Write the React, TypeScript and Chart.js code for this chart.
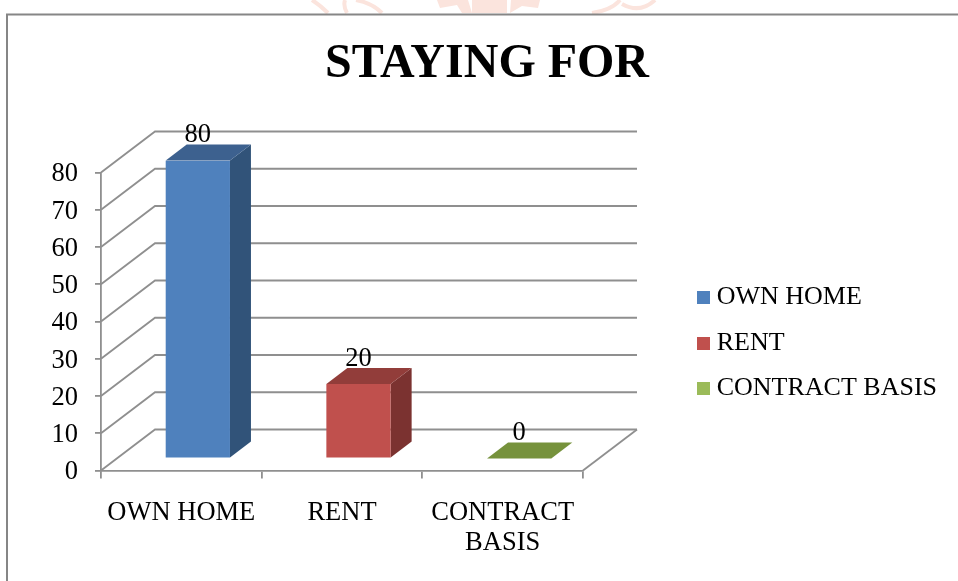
import React, { useEffect, useRef } from "react";
import { Chart, registerables } from "chart.js";

Chart.register(...registerables);

const categories = ["OWN HOME", "RENT", ["CONTRACT", "BASIS"]];
const legendNames = ["OWN HOME", "RENT", "CONTRACT BASIS"];
const values = [80, 20, 0];
const frontColors = ["#4F81BD", "#C0504D", "#9BBB59"];
const sideColors = ["#315379", "#7B3230", "#64783A"];
const topColors = ["#3D618F", "#923D3A", "#76923C"];

const FONT = "'Liberation Serif', 'Times New Roman', serif";
const GREY = "#8F8F8F";
const WATERMARK = "#FBE4DD";
const WALL_DX = 54;
const WALL_DY = -41;
const BAR_DX = 16.5;
const BAR_DY = -12;
const DEPTH_DX = 21;
const DEPTH_DY = -16;

function swatch(color: string) {
  const c = document.createElement("canvas");
  c.width = 13;
  c.height = 13;
  const g = c.getContext("2d")!;
  g.fillStyle = color;
  g.fillRect(0, 0, 13, 13);
  return c;
}

function drawWatermark(ctx: CanvasRenderingContext2D) {
  ctx.fillStyle = WATERMARK;
  ctx.strokeStyle = WATERMARK;
  const polys = [
    [[437, 0], [468, 0], [472, 13], [462, 13], [457, 5], [440, 8]],
    [[472, 0], [507, 0], [507, 13], [472, 13]],
    [[511, 0], [540, 0], [538, 8], [522, 6], [510, 13]],
  ];
  for (const p of polys) {
    ctx.beginPath();
    p.forEach(([x, y], i) => (i ? ctx.lineTo(x, y) : ctx.moveTo(x, y)));
    ctx.closePath();
    ctx.fill();
  }
  ctx.lineWidth = 4;
  const curves = [
    [312, 0, 320, 5, 328, 13],
    [345, 0, 343, 6, 347, 13],
    [356, 0, 372, 3, 382, 13],
    [592, 13, 612, 10, 620, 0],
    [622, 4, 640, 14, 655, 0],
  ];
  for (const [a, b, c, d, e, f] of curves) {
    ctx.beginPath();
    ctx.moveTo(a, b);
    ctx.quadraticCurveTo(c, d, e, f);
    ctx.stroke();
  }
}

const scenePlugin = {
  id: "scene3d",
  beforeDraw(chart: any) {
    const { ctx, width, height, chartArea, scales } = chart;
    ctx.save();
    ctx.fillStyle = "#fff";
    ctx.fillRect(0, 0, width, height);
    drawWatermark(ctx);
    ctx.strokeStyle = "#868686";
    ctx.lineWidth = 2;
    ctx.beginPath();
    ctx.moveTo(7, height);
    ctx.lineTo(7, 14.5);
    ctx.lineTo(width, 14.5);
    ctx.stroke();
    ctx.restore();
    scales.y.getLabelItems(chartArea).forEach((item: any) => {
      const [tx, ty] = item.options.translation;
      item.options.translation = [tx, ty + 2];
    });
  },
  beforeDatasetsDraw(chart: any) {
    const { ctx, chartArea, scales } = chart;
    const { left, right, bottom } = chartArea;
    ctx.save();
    ctx.strokeStyle = GREY;
    ctx.lineWidth = 1.8;
    for (const t of scales.y.ticks) {
      const y = scales.y.getPixelForValue(t.value);
      ctx.beginPath();
      ctx.moveTo(left, y);
      ctx.lineTo(left + WALL_DX, y + WALL_DY);
      ctx.lineTo(right + WALL_DX, y + WALL_DY);
      ctx.stroke();
    }
    ctx.beginPath();
    ctx.moveTo(right, bottom);
    ctx.lineTo(right + WALL_DX, bottom + WALL_DY);
    ctx.stroke();
    ctx.restore();

    ctx.save();
    ctx.translate(BAR_DX, BAR_DY);
    const meta = chart.getDatasetMeta(0);
    meta.data.forEach((bar: any, i: number) => {
      const half = bar.width / 2;
      const l = bar.x - half;
      const r = bar.x + half;
      const t = bar.y;
      const b = bar.base;
      ctx.fillStyle = sideColors[i];
      ctx.beginPath();
      ctx.moveTo(r, t);
      ctx.lineTo(r + DEPTH_DX, t + DEPTH_DY);
      ctx.lineTo(r + DEPTH_DX, b + DEPTH_DY);
      ctx.lineTo(r, b);
      ctx.closePath();
      ctx.fill();
      ctx.fillStyle = topColors[i];
      ctx.beginPath();
      ctx.moveTo(l, t);
      ctx.lineTo(l + DEPTH_DX, t + DEPTH_DY);
      ctx.lineTo(r + DEPTH_DX, t + DEPTH_DY);
      ctx.lineTo(r, t);
      ctx.closePath();
      ctx.fill();
    });
  },
  afterDatasetsDraw(chart: any) {
    const { ctx } = chart;
    const meta = chart.getDatasetMeta(0);
    ctx.fillStyle = "#000";
    ctx.font = `26.5px ${FONT}`;
    ctx.textAlign = "center";
    ctx.textBaseline = "middle";
    meta.data.forEach((bar: any, i: number) => {
      ctx.fillText(String(values[i]), bar.x, bar.y - 25);
    });
    ctx.restore();
  },
};

export default function App() {
  const ref = useRef<HTMLCanvasElement>(null);
  useEffect(() => {
    document.body.style.margin = "0";
    const chart = new Chart(ref.current!, {
      type: "bar",
      data: {
        labels: categories as any,
        datasets: [
          {
            data: values,
            backgroundColor: frontColors,
            borderWidth: 0,
            barPercentage: 0.4,
            categoryPercentage: 1,
          },
        ],
      },
      plugins: [scenePlugin],
      options: {
        animation: false,
        responsive: false,
        layout: { padding: { left: 27, right: 11, top: 0, bottom: 0 } },
        scales: {
          x: {
            grid: {
              color: GREY,
              lineWidth: 1.8,
              drawOnChartArea: false,
              tickLength: 8,
            },
            border: { color: GREY, width: 1.8 },
            ticks: {
              color: "#000",
              font: { family: FONT, size: 26.5, lineHeight: 1.12 },
              padding: 20,
              maxRotation: 0,
              autoSkip: false,
            },
            afterFit: (s: any) => {
              s.height = 110.5;
            },
          },
          y: {
            min: 0,
            max: 80,
            grid: {
              color: GREY,
              lineWidth: 1.8,
              drawOnChartArea: false,
              tickLength: 6,
            },
            border: { color: GREY, width: 1.8 },
            ticks: {
              stepSize: 10,
              color: "#000",
              font: { family: FONT, size: 26.5 },
              padding: 17,
            },
            afterFit: (s: any) => {
              s.width = 74;
            },
          },
          gutter: {
            type: "linear",
            position: "right",
            display: true,
            grid: { display: false },
            border: { display: false },
            ticks: { display: false },
            afterFit: (s: any) => {
              s.width = 947 - (s.chart.legend?.width ?? 265) - 583;
            },
          },
        } as any,
        plugins: {
          tooltip: { enabled: false },
          title: {
            display: true,
            text: "STAYING FOR",
            color: "#000",
            font: { family: FONT, size: 48, weight: "bold" },
            padding: { top: 36, bottom: 78.9 },
          },
          legend: {
            display: true,
            position: "right",
            maxWidth: 320,
            title: { display: true, text: " ", padding: { top: 0, bottom: 74 }, font: { size: 26 } },
            labels: {
              color: "#000",
              font: { family: FONT, size: 26 },
              padding: 19.5,
              usePointStyle: true,
              pointStyleWidth: 1,
              generateLabels: () =>
                legendNames.map((name, i) => ({
                  text: name,
                  fillStyle: frontColors[i],
                  strokeStyle: frontColors[i],
                  lineWidth: 0,
                  pointStyle: swatch(frontColors[i]),
                  fontColor: "#000",
                  index: i,
                  hidden: false,
                })),
            },
          },
        } as any,
      },
    });
    return () => chart.destroy();
  }, []);
  return <canvas ref={ref} width={958} height={581} style={{ display: "block" }} />;
}
